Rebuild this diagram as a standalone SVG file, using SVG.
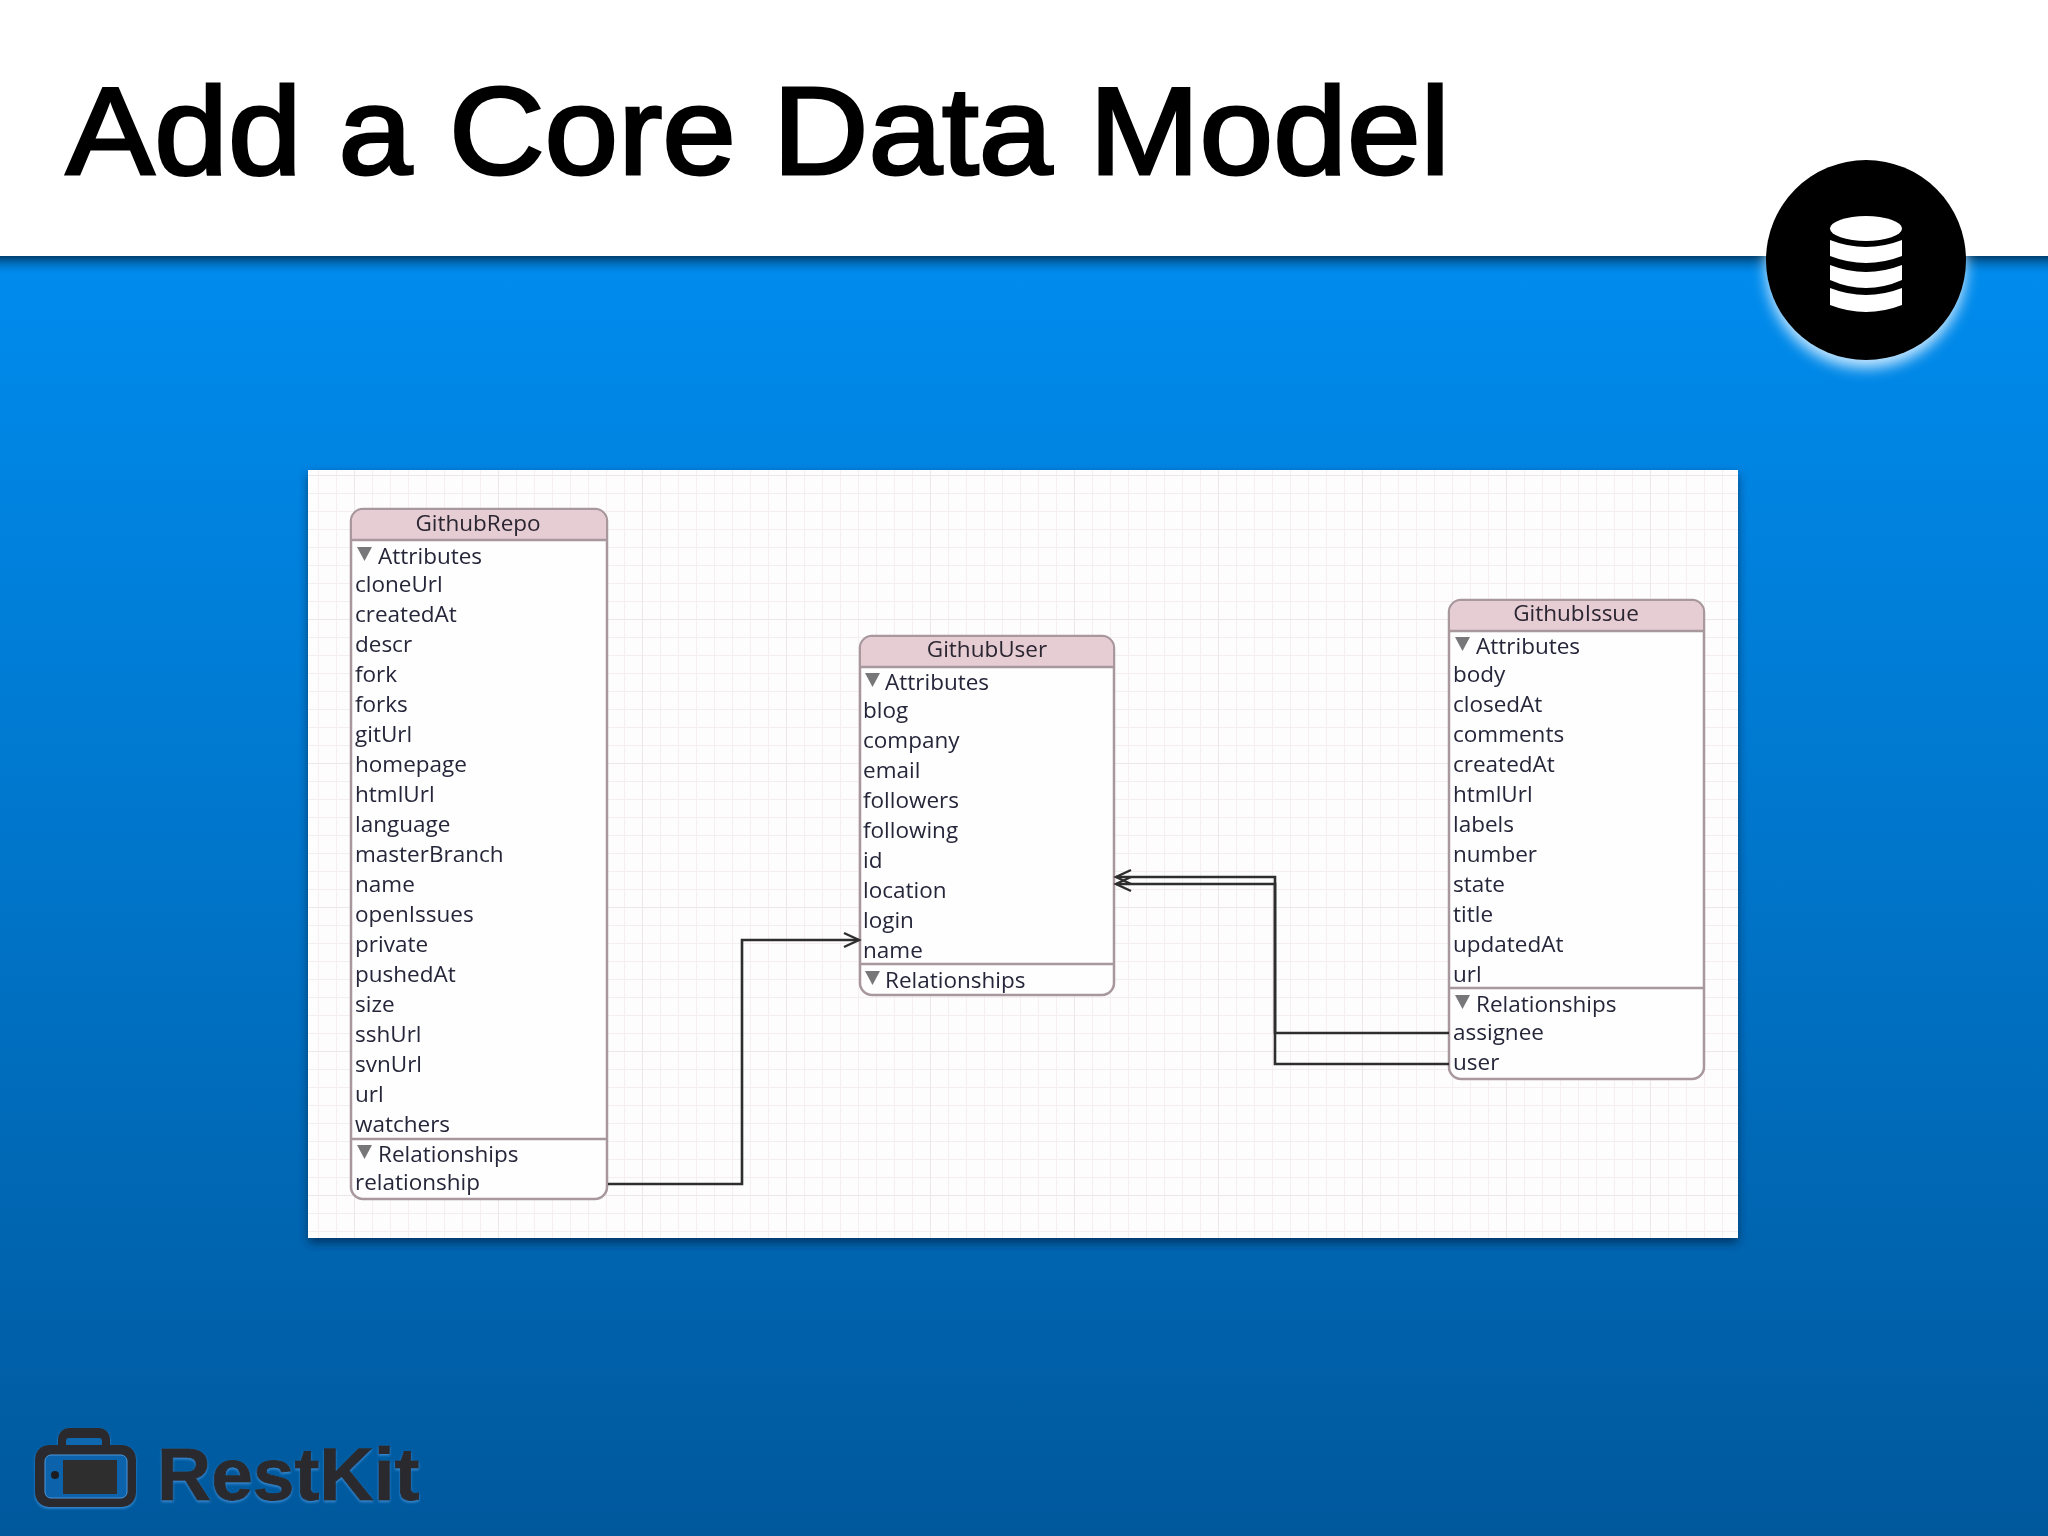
<svg xmlns="http://www.w3.org/2000/svg" width="2048" height="1536" viewBox="0 0 2048 1536">
<style>
.t{font-family:"Open Sans","DejaVu Sans",sans-serif;font-size:22.5px;fill:#26263a}
.h{font-family:"Open Sans","DejaVu Sans",sans-serif;font-size:22.5px;fill:#2a2530;text-anchor:middle}
.e{fill:#fefefe;stroke:#a8989e;stroke-width:2.5}
.hd{fill:#e6ccd3}
.d{stroke:#a8989e;stroke-width:2.5;fill:none}
.tri{fill:#77777a}
.c{fill:none;stroke:#2e2e2e;stroke-width:2.6}
</style>
<defs>
<linearGradient id="bg" x1="0" y1="256" x2="0" y2="1536" gradientUnits="userSpaceOnUse"><stop offset="0" stop-color="#008cee"/><stop offset=".5" stop-color="#0074c8"/><stop offset="1" stop-color="#00589c"/></linearGradient>
<linearGradient id="hs" x1="0" y1="0" x2="0" y2="1"><stop offset="0" stop-color="#003a66" stop-opacity=".95"/><stop offset=".5" stop-color="#005a9c" stop-opacity=".4"/><stop offset="1" stop-color="#0088e8" stop-opacity="0"/></linearGradient>
<pattern id="g1" x="354" y="475" width="18" height="18" patternUnits="userSpaceOnUse"><path d="M0 0V18M0 0H18" stroke="#f5eeef" stroke-width="1.8" fill="none"/></pattern>
<pattern id="g2" x="354" y="475" width="144" height="144" patternUnits="userSpaceOnUse"><path d="M0 0V144M0 0H144" stroke="#eee7e8" stroke-width="2" fill="none"/></pattern>
<filter id="ps" x="-5%" y="-5%" width="110%" height="112%"><feDropShadow dx="0" dy="5" stdDeviation="5" flood-color="#002a50" flood-opacity=".75"/></filter>
<filter id="gl" x="-30%" y="-30%" width="160%" height="160%"><feGaussianBlur stdDeviation="7"/></filter>
<filter id="b"><feGaussianBlur stdDeviation=".45"/></filter>
<filter id="ls" x="-5%" y="-10%" width="110%" height="125%"><feDropShadow dx="0" dy="1.5" stdDeviation=".8" flood-color="#3f90d8" flood-opacity=".9"/></filter>
<clipPath id="below"><rect x="0" y="256" width="2048" height="1280"/></clipPath>
<marker id="ah" markerUnits="userSpaceOnUse" markerWidth="20" markerHeight="20" refX="17" refY="10" orient="auto"><path d="M2 3L17 10L2 17" fill="none" stroke="#2e2e2e" stroke-width="2.4"/></marker>
</defs>

<rect id="background" width="2048" height="1536" fill="url(#bg)"/>
<rect id="header" width="2048" height="256" fill="#fff"/>
<rect y="256" width="2048" height="20" fill="url(#hs)"/>
<text id="title" x="66" y="174" font-family="'Liberation Sans',Arial,sans-serif" font-size="125" fill="#000" stroke="#000" stroke-width="3" textLength="1384" lengthAdjust="spacingAndGlyphs">Add a Core Data Model</text>

<g id="badge">
<circle cx="1866" cy="268" r="100" fill="#c4e6ff" filter="url(#gl)" clip-path="url(#below)"/>
<circle cx="1866" cy="260" r="100" fill="#000"/>
<g fill="#fff">
<ellipse cx="1866" cy="228.500" rx="36" ry="12.500"/>
<path d="M1830 240Q1866 254 1902 240V256Q1866 270 1830 256Z"/>
<path d="M1830 265Q1866 279 1902 265V280Q1866 296 1830 280Z"/>
<path d="M1830 288Q1866 302 1902 288V305Q1866 319 1830 305Z"/>
</g>
</g>

<g id="logo">
<g id="briefcase" filter="url(#ls)">
<rect x="58" y="1428" width="52" height="30" rx="11" fill="#2a2a2d"/>
<rect x="66" y="1438" width="36" height="9" rx="3" fill="#0f68b0"/>
<rect x="35" y="1445" width="101" height="62" rx="14" fill="#2a2a2d"/>
<rect x="45" y="1455" width="82" height="43" rx="6" fill="#0862ac" stroke="#4a98dc" stroke-width="1"/>
<rect x="63" y="1460" width="54" height="34" fill="#2f2d2e"/>
<circle cx="55" cy="1475" r="4" fill="#1d1d20"/>
</g>
<text x="157" y="1500" font-family="'Liberation Sans',Arial,sans-serif" font-weight="700" font-size="75" fill="#2a2a2d" stroke="#2a2a2d" stroke-width="1" filter="url(#ls)">RestKit</text>
</g>

<g id="panel">
<rect x="308" y="470" width="1430" height="768" fill="#fefdfd" filter="url(#ps)"/>
<rect x="308" y="470" width="1430" height="768" fill="url(#g1)"/>
<rect x="308" y="470" width="1430" height="768" fill="url(#g2)"/>
</g>

<g id="GithubRepo" filter="url(#b)">
<rect class="e" x="351" y="509" width="256" height="690" rx="12"/>
<path class="hd" d="M352 539V521a11 11 0 0 1 11-11H595a11 11 0 0 1 11 11V539Z"/>
<path class="d" d="M351 540H607M351 1139H607"/>
<text class="h" x="478" y="531">GithubRepo</text>
<path class="tri" d="M357 547H372L364.500 561Z"/><text class="t" x="378" y="564">Attributes</text>
<text class="t" x="355" y="592">cloneUrl</text><text class="t" x="355" y="622">createdAt</text><text class="t" x="355" y="652">descr</text><text class="t" x="355" y="682">fork</text><text class="t" x="355" y="712">forks</text><text class="t" x="355" y="742">gitUrl</text><text class="t" x="355" y="772">homepage</text><text class="t" x="355" y="802">htmlUrl</text><text class="t" x="355" y="832">language</text><text class="t" x="355" y="862">masterBranch</text><text class="t" x="355" y="892">name</text><text class="t" x="355" y="922">openIssues</text><text class="t" x="355" y="952">private</text><text class="t" x="355" y="982">pushedAt</text><text class="t" x="355" y="1012">size</text><text class="t" x="355" y="1042">sshUrl</text><text class="t" x="355" y="1072">svnUrl</text><text class="t" x="355" y="1102">url</text><text class="t" x="355" y="1132">watchers</text>
<path class="tri" d="M357 1145H372L364.500 1159Z"/><text class="t" x="378" y="1162">Relationships</text>
<text class="t" x="355" y="1190">relationship</text>
</g>

<g id="GithubUser" filter="url(#b)">
<rect class="e" x="860" y="636" width="254" height="359" rx="12"/>
<path class="hd" d="M861 666V648a11 11 0 0 1 11-11H1102a11 11 0 0 1 11 11V666Z"/>
<path class="d" d="M860 667H1114M860 964H1114"/>
<text class="h" x="987" y="657">GithubUser</text>
<path class="tri" d="M865 673H880L872.500 687Z"/><text class="t" x="885" y="690">Attributes</text>
<text class="t" x="863" y="718">blog</text><text class="t" x="863" y="748">company</text><text class="t" x="863" y="778">email</text><text class="t" x="863" y="808">followers</text><text class="t" x="863" y="838">following</text><text class="t" x="863" y="868">id</text><text class="t" x="863" y="898">location</text><text class="t" x="863" y="928">login</text><text class="t" x="863" y="958">name</text>
<path class="tri" d="M865 971H880L872.500 985Z"/><text class="t" x="885" y="988">Relationships</text>
</g>

<g id="GithubIssue" filter="url(#b)">
<rect class="e" x="1449" y="600" width="255" height="479" rx="12"/>
<path class="hd" d="M1450 630V612a11 11 0 0 1 11-11H1692a11 11 0 0 1 11 11V630Z"/>
<path class="d" d="M1449 631H1704M1449 988H1704"/>
<text class="h" x="1576" y="621">GithubIssue</text>
<path class="tri" d="M1455 637H1470L1462.500 651Z"/><text class="t" x="1476" y="654">Attributes</text>
<text class="t" x="1453" y="682">body</text><text class="t" x="1453" y="712">closedAt</text><text class="t" x="1453" y="742">comments</text><text class="t" x="1453" y="772">createdAt</text><text class="t" x="1453" y="802">htmlUrl</text><text class="t" x="1453" y="832">labels</text><text class="t" x="1453" y="862">number</text><text class="t" x="1453" y="892">state</text><text class="t" x="1453" y="922">title</text><text class="t" x="1453" y="952">updatedAt</text><text class="t" x="1453" y="982">url</text>
<path class="tri" d="M1455 995H1470L1462.500 1009Z"/><text class="t" x="1476" y="1012">Relationships</text>
<text class="t" x="1453" y="1040">assignee</text><text class="t" x="1453" y="1070">user</text>
</g>

<g id="connectors">
<path class="c" d="M608 1184H742V940H859" marker-end="url(#ah)"/>
<path class="c" d="M1449 1033H1275V877H1116" marker-end="url(#ah)"/>
<path class="c" d="M1449 1064H1275V884H1116" marker-end="url(#ah)"/>
</g>
</svg>
